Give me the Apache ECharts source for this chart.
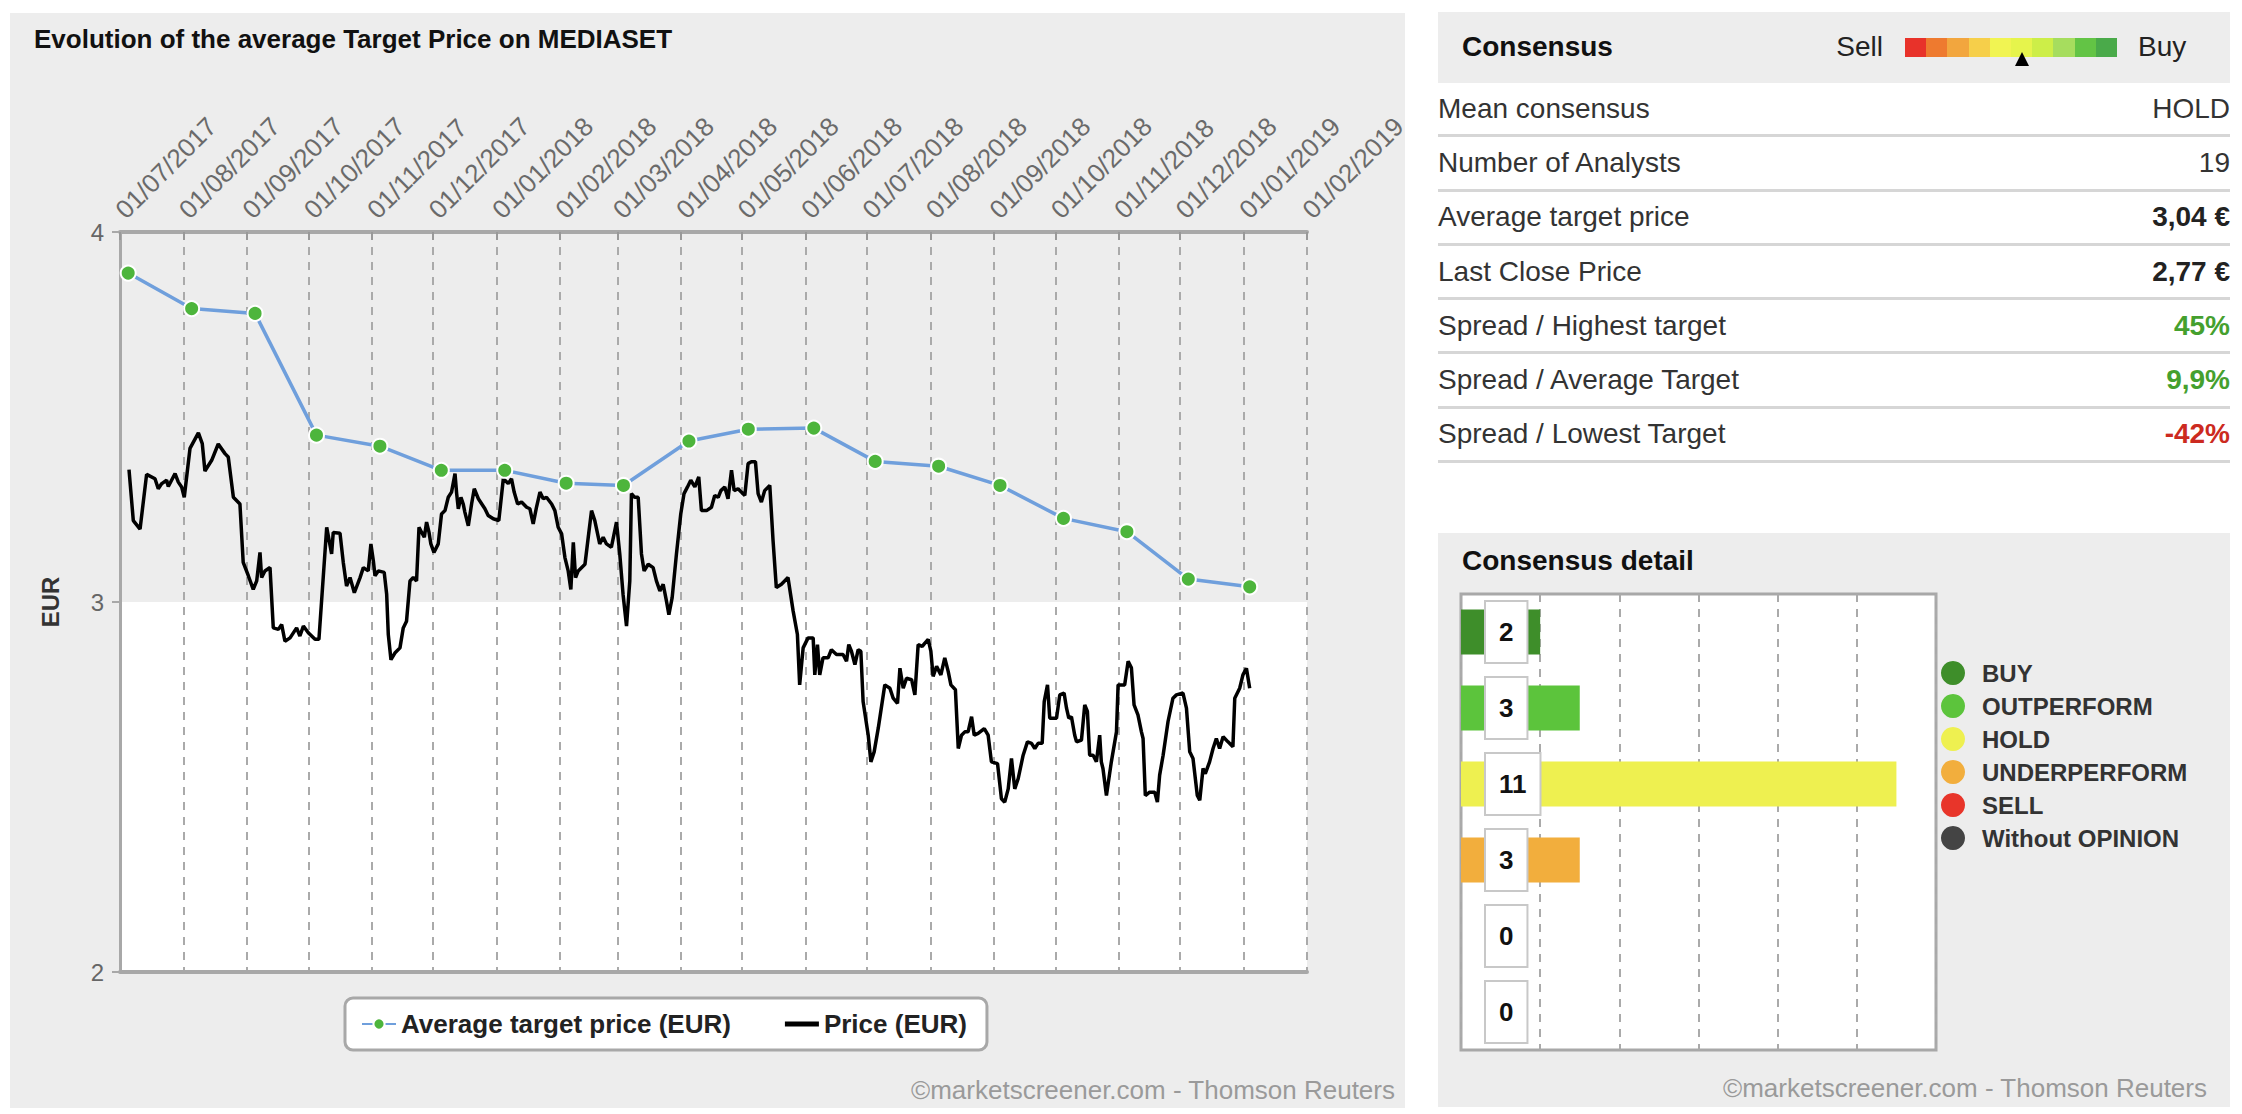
<!DOCTYPE html>
<html><head><meta charset="utf-8">
<script src="https://cdn.jsdelivr.net/npm/echarts@6/dist/echarts.min.js"></script>
<style>
html,body{margin:0;padding:0;background:#fff;width:2242px;height:1114px;overflow:hidden;font-family:"Liberation Sans",Arial,sans-serif;}
.panel{position:absolute;background:#ededed;}
#chart{position:absolute;left:0;top:0;width:2242px;height:1114px;}
#tbl{position:absolute;left:1438px;top:12px;width:792px;color:#333;}
.hdr{position:relative;height:71px;background:#ededed;}
.ht{position:absolute;left:24px;top:0;line-height:70px;font-size:28px;font-weight:bold;color:#111;}
.sell{position:absolute;right:347px;top:0;line-height:70px;font-size:28px;color:#222;}
.buy{position:absolute;left:700px;top:0;line-height:70px;font-size:28px;color:#222;}
.scale{position:absolute;left:467px;top:26px;width:212px;height:19px;display:flex;}
.scale i{flex:1;display:block;}
.tri{position:absolute;left:577px;top:40px;width:0;height:0;border-left:7px solid transparent;border-right:7px solid transparent;border-bottom:14px solid #000;}
.row{height:54.3px;box-sizing:border-box;border-bottom:3px solid #d6d6d6;display:flex;justify-content:space-between;align-items:center;font-size:28px;color:#333;}
.row .v{color:#333;}
</style></head>
<body>
<div class="panel" style="left:10px;top:13px;width:1395px;height:1095px"></div>
<div class="panel" style="left:1438px;top:533px;width:792px;height:574px"></div>
<div id="chart"></div>
<div id="tbl"></div>
<script>
// ---------------- DATA ----------------
const monthTickLabels = ['01/07/2017','01/08/2017','01/09/2017','01/10/2017','01/11/2017','01/12/2017',
  '01/01/2018','01/02/2018','01/03/2018','01/04/2018','01/05/2018','01/06/2018','01/07/2018','01/08/2018',
  '01/09/2018','01/10/2018','01/11/2018','01/12/2018','01/01/2019','01/02/2019'];
const yTickValues = [2, 3, 4];
const targetDates = ['2017-07-05','2017-08-05','2017-09-05','2017-10-05','2017-11-05','2017-12-05','2018-01-05',
  '2018-02-04','2018-03-04','2018-04-05','2018-05-04','2018-06-05','2018-07-05','2018-08-05','2018-09-04',
  '2018-10-05','2018-11-05','2018-12-05','2019-01-04'];
const targetValues = [3.889,3.793,3.780,3.451,3.421,3.356,3.356,3.321,3.315,3.435,3.467,3.470,3.380,3.367,
  3.315,3.226,3.190,3.062,3.041];
const priceStart = '2017-07-01';
// [days after priceStart, price in EUR]
const pricePoints = [
 [4.4,3.358],[6.5,3.220],[9.8,3.197],[13.0,3.345],[17.1,3.333],[18.7,3.306],[20.4,3.320],[22.8,3.329],
 [23.6,3.312],[25.2,3.329],[26.9,3.347],[28.5,3.324],[30.1,3.311],[31.4,3.283],[34.2,3.415],[38.3,3.457],
 [40.2,3.428],[41.5,3.354],[44.8,3.383],[48.0,3.427],[51.3,3.401],[52.9,3.392],[55.4,3.283],[58.6,3.265],
 [60.2,3.107],[62.7,3.071],[65.1,3.034],[66.8,3.057],[68.4,3.134],[69.2,3.066],[70.8,3.084],[73.3,3.093],
 [74.9,2.930],[77.4,2.926],[79.0,2.939],[80.6,2.894],[83.1,2.903],[86.3,2.930],[87.9,2.908],[89.6,2.935],
 [92.0,2.917],[95.3,2.899],[97.2,2.899],[101.0,3.202],[103.4,3.130],[104.2,3.188],[107.5,3.186],[109.1,3.107],
 [110.7,3.043],[112.4,3.066],[114.5,3.025],[117.3,3.066],[118.9,3.093],
 [121.3,3.084],[122.6,3.157],[123.8,3.111],[124.6,3.071],[126.2,3.084],[129.1,3.080],[130.3,3.021],[131.1,2.912],
 [132.4,2.844],[134.3,2.862],[136.8,2.876],[138.4,2.930],[140.0,2.948],[141.7,3.057],[143.3,3.066],[144.9,3.057],
 [146.1,3.202],[147.4,3.188],[148.7,3.175],[149.8,3.216],[151.0,3.188],[151.9,3.157],[153.4,3.134],[155.5,3.157],
 [157.1,3.238],[158.8,3.247],[160.4,3.283],[162.0,3.297],[163.7,3.347],[164.5,3.293],[165.3,3.252],[166.6,3.283],
 [167.7,3.265],[168.5,3.243],[170.2,3.206],[171.8,3.265],[173.1,3.306],[175.1,3.279],[178.3,3.252],[179.9,3.234],
 [182.4,3.225],[185.1,3.220],[187.3,3.333],[189.7,3.320],[191.3,3.333],[192.6,3.297],[194.3,3.265],[196.2,3.270],
 [198.7,3.256],[200.3,3.252],[201.9,3.211],[203.5,3.256],[205.2,3.297],[206.8,3.279],[208.4,3.283],[210.9,3.265],
 [212.5,3.247],[214.1,3.202],[215.8,3.184],[217.4,3.120],[219.0,3.084],[220.3,3.034],[221.5,3.161],[222.6,3.066],
 [223.9,3.084],[227.2,3.102],[228.8,3.175],[230.4,3.247],[232.0,3.220],
 [234.4,3.157],[236.1,3.175],[237.7,3.157],[240.1,3.148],[242.6,3.216],[244.2,3.130],[245.8,3.021],[247.5,2.935],
 [249.1,3.057],[249.9,3.293],[251.5,3.283],[253.2,3.283],[254.8,3.130],[256.1,3.084],[258.1,3.102],[260.5,3.093],
 [262.1,3.057],[263.8,3.030],[265.4,3.048],[267.0,3.003],[268.2,2.966],[269.8,3.012],[271.9,3.130],[274.0,3.238],
 [275.6,3.293],[277.3,3.311],[278.9,3.329],[280.9,3.311],[282.8,3.338],[284.1,3.247],[286.6,3.247],[289.0,3.256],
 [290.6,3.288],[292.3,3.283],[293.6,3.301],[295.5,3.311],[297.1,3.279],[298.8,3.356],[300.1,3.301],[302.0,3.306],
 [303.6,3.297],[305.3,3.288],[306.9,3.374],[308.5,3.379],[310.5,3.379],[311.8,3.293],[313.4,3.270],[315.0,3.301],
 [317.5,3.315],[319.1,3.166],[320.7,3.039],[323.2,3.048],[326.4,3.066],[328.9,2.976],[331.0,2.912],[332.1,2.776],
 [333.8,2.876],[336.2,2.903],[338.7,2.903],[339.5,2.803],[340.8,2.885],[341.9,2.803],[343.5,2.849],[346.0,2.849],
 [347.6,2.871],[350.1,2.858],[353.3,2.858],
 [355.0,2.840],[356.1,2.885],[357.4,2.867],[359.1,2.831],[360.7,2.871],[362.0,2.867],[363.1,2.731],[365.6,2.640],
 [366.9,2.568],[368.5,2.595],[370.5,2.659],[373.7,2.776],[376.2,2.767],[377.8,2.740],[379.9,2.726],[381.1,2.821],
 [382.7,2.767],[384.3,2.794],[386.8,2.790],[388.4,2.749],[390.0,2.885],[392.0,2.880],[393.3,2.889],[394.9,2.899],
 [396.2,2.867],[397.3,2.799],[399.0,2.826],[401.1,2.803],[403.0,2.849],[404.7,2.812],[406.0,2.776],[408.2,2.763],
 [409.6,2.604],[411.2,2.640],[412.8,2.649],[414.4,2.649],[416.1,2.690],[417.4,2.640],[419.3,2.645],[422.3,2.658],
 [424.2,2.640],[425.8,2.568],[428.8,2.563],[430.7,2.468],[432.3,2.459],[434.0,2.495],[435.6,2.577],[437.2,2.495],
 [438.9,2.523],[441.3,2.586],[443.4,2.622],[445.4,2.618],[447.0,2.604],[448.6,2.618],[450.6,2.618],[451.6,2.731],
 [453.2,2.776],[454.3,2.686],[457.6,2.686],[459.2,2.749],[461.3,2.754],[462.5,2.713],[463.6,2.686],[464.9,2.690],
 [466.5,2.640],[467.4,2.622],[469.8,2.627],
 [471.4,2.722],[472.7,2.704],[473.8,2.586],[475.5,2.586],[477.1,2.568],[478.7,2.640],[479.5,2.568],[480.3,2.550],
 [482.0,2.477],[484.4,2.568],[486.9,2.649],[487.7,2.776],[490.9,2.776],[492.6,2.840],[494.2,2.822],[495.5,2.722],
 [497.4,2.695],[499.1,2.649],[499.9,2.631],[501.0,2.477],[503.1,2.486],[505.6,2.486],[506.9,2.459],[508.0,2.532],
 [509.7,2.586],[512.1,2.677],[514.5,2.740],[516.2,2.749],[519.4,2.754],[521.1,2.713],[522.7,2.595],[524.3,2.577],
 [526.4,2.477],[527.6,2.464],[529.2,2.550],[530.3,2.536],[532.4,2.568],[534.1,2.604],[535.7,2.631],[537.3,2.604],
 [539.0,2.636],[541.4,2.622],[543.8,2.609],[544.7,2.740],[547.1,2.767],[548.7,2.803],[550.4,2.821],[552.0,2.767]
];
const consensusCategories = ['BUY','OUTPERFORM','HOLD','UNDERPERFORM','SELL','Without OPINION'];
const consensusCounts = [2, 3, 11, 3, 0, 0];
const consensusColors = ['#3e8e2a','#5cc43c','#eef050','#f2ae3d','#e8352a','#444444'];
const consensusTicks = [0, 2, 4, 6, 8, 10, 12];
const scaleColors = ['#e8322a','#ee7a2f','#f2a63e','#f6cf4a','#f1f452','#e6f44c','#cdee48','#a6dd5e','#63c445','#4aaa4a'];
const consensusRows = [
  ['Mean consensus','HOLD',''],
  ['Number of Analysts','19',''],
  ['Average target price','3,04 €','bold'],
  ['Last Close Price','2,77 €','bold'],
  ['Spread / Highest target','45%','green'],
  ['Spread / Average Target','9,9%','green'],
  ['Spread / Lowest Target','-42%','red']
];

// ---------------- TABLE ----------------
let html = '<div class="hdr"><span class="ht">Consensus</span><span class="sell">Sell</span><div class="scale">' +
  scaleColors.map(c => '<i style="background:' + c + '"></i>').join('') +
  '</div><div class="tri"></div><span class="buy">Buy</span></div>';
consensusRows.forEach(r => {
  let st = '';
  if (r[2] === 'bold') st = 'font-weight:bold;color:#222;';
  if (r[2] === 'green') st = 'font-weight:bold;color:#45a02e;';
  if (r[2] === 'red') st = 'font-weight:bold;color:#cc2a20;';
  html += '<div class="row"><span>' + r[0] + '</span><span class="v" style="' + st + '">' + r[1] + '</span></div>';
});
document.getElementById('tbl').innerHTML = html;

// ---------------- CHART ----------------
const FONT = '"Liberation Sans", Arial, sans-serif';
function parseDMY(s){ const p = s.split('/').map(Number); return new Date(p[2], p[1]-1, p[0]).getTime(); }
function parseYMD(s){ const p = s.split('-').map(Number); return new Date(p[0], p[1]-1, p[2]).getTime(); }
const tickValues = monthTickLabels.map(parseDMY);
const labelByValue = {};
tickValues.forEach((v,i)=>{ labelByValue[v] = monthTickLabels[i]; });
const base = parseYMD(priceStart);
const priceData = pricePoints.map(p => [base + p[0]*86400000, p[1]]);
const targetData = targetDates.map((d,i) => [parseYMD(d), targetValues[i]]);

const chart = echarts.init(document.getElementById('chart'), null, {renderer:'svg', width:2242, height:1114});

const barSeries = consensusCategories.map((name, i) => ({
  type:'bar', name:name, xAxisIndex:2, yAxisIndex:1, stack:'c', barWidth:45,
  itemStyle:{color:consensusColors[i]},
  data: consensusCounts.map((v,j) => j === i ? v : '-'),
  label:{show:true, position:[25,'50%'], align:'left', verticalAlign:'middle',
    backgroundColor:'#fff', borderColor:'#c8c8c8', borderWidth:2, padding:[17,13],
    fontSize:26, lineHeight:26, fontWeight:'bold', color:'#111', fontFamily:FONT},
  emphasis:{disabled:true}
}));

const option = {
  animation:false,
  textStyle:{fontFamily:FONT},
  title:[
    {text:'Evolution of the average Target Price on MEDIASET', left:34, top:26, padding:0,
     textStyle:{fontSize:26, fontWeight:'bold', color:'#111', fontFamily:FONT}},
    {text:'Consensus detail', left:1462, top:546, padding:0,
     textStyle:{fontSize:28, fontWeight:'bold', color:'#111', fontFamily:FONT}}
  ],
  grid:[
    {left:120, top:232, width:1187, height:740, outerBoundsMode:'none', containLabel:false},
    {left:1461, top:594, width:475, height:456, show:true, backgroundColor:'#fff',
     borderColor:'#a8a8a8', borderWidth:3, outerBoundsMode:'none', containLabel:false}
  ],
  legend:[
    {data:[{name:'Average target price (EUR)'},
           {name:'Price (EUR)', icon:'path://M0,0 H34 V5 H0 Z'}],
     left:345, top:998,
     backgroundColor:'#fff', borderColor:'#a8a8a8', borderWidth:3, borderRadius:8,
     padding:[13,20,13,16], itemGap:54, itemWidth:34, itemHeight:14,
     textStyle:{fontSize:26, fontWeight:'bold', color:'#222', fontFamily:FONT}},
    {data:consensusCategories, orient:'vertical', left:1941, top:661, icon:'circle',
     itemWidth:48, itemHeight:24, itemGap:9, padding:0,
     textStyle:{fontSize:24, fontWeight:'bold', color:'#333', fontFamily:FONT}}
  ],
  xAxis:[
    {type:'value', gridIndex:0, position:'top', min:tickValues[0], max:tickValues[tickValues.length-1],
     axisLine:{show:true, lineStyle:{color:'#a8a8a8', width:4}},
     axisTick:{show:true, inside:true, length:8, customValues:tickValues, lineStyle:{color:'#999', width:2}},
     axisLabel:{show:true, customValues:tickValues, rotate:-45, margin:18, fontSize:26, color:'#6a6a6a',
       fontFamily:FONT, hideOverlap:false, showMinLabel:true, showMaxLabel:true,
       formatter:function(v){ return labelByValue[v] || ''; }},
     splitLine:{show:true, lineStyle:{color:'#aaaaaa', width:2, type:[8,7]}}},
    {type:'value', gridIndex:0, position:'bottom', min:0, max:1,
     axisLine:{show:true, lineStyle:{color:'#a8a8a8', width:4}},
     axisTick:{show:false}, axisLabel:{show:false}, splitLine:{show:false}},
    {type:'value', gridIndex:1, min:consensusTicks[0], max:consensusTicks[consensusTicks.length-1], interval:2,
     axisLine:{show:false}, axisTick:{show:false}, axisLabel:{show:false},
     splitLine:{show:true, lineStyle:{color:'#aaaaaa', width:2, type:[8,7]}}}
  ],
  yAxis:[
    {type:'value', gridIndex:0, min:yTickValues[0], max:yTickValues[yTickValues.length-1], interval:1,
     name:'EUR', nameLocation:'middle', nameGap:58,
     nameTextStyle:{fontSize:24, fontWeight:'bold', color:'#333', fontFamily:FONT},
     axisLine:{show:true, lineStyle:{color:'#a8a8a8', width:3}},
     axisTick:{show:true, length:8, lineStyle:{color:'#a8a8a8', width:2}},
     axisLabel:{fontSize:24, color:'#666', margin:16, fontFamily:FONT},
     splitLine:{show:false},
     splitArea:{show:true, areaStyle:{color:['#ffffff','#ededed']}}},
    {type:'category', gridIndex:1, data:consensusCategories, inverse:true,
     axisLine:{show:false}, axisTick:{show:false}, axisLabel:{show:false}, splitLine:{show:false}}
  ],
  series:[
    {type:'line', name:'Price (EUR)', xAxisIndex:0, yAxisIndex:0, data:priceData,
     symbol:'none', lineStyle:{color:'#000', width:3.5}, itemStyle:{color:'#000'}, emphasis:{disabled:true}},
    {type:'line', name:'Average target price (EUR)', xAxisIndex:0, yAxisIndex:0, data:targetData,
     symbol:'circle', symbolSize:15, showAllSymbol:true,
     lineStyle:{color:'#6f9fdc', width:3.5},
     itemStyle:{color:'#4db53c', borderColor:'#fff', borderWidth:2}, emphasis:{disabled:true}}
  ].concat(barSeries),
  graphic:[
    {type:'text', x:1395, y:1090, style:{text:'©marketscreener.com - Thomson Reuters', align:'right',
      verticalAlign:'middle', fontSize:26, fill:'#9a9a9a', fontFamily:FONT}},
    {type:'text', x:2207, y:1088, style:{text:'©marketscreener.com - Thomson Reuters', align:'right',
      verticalAlign:'middle', fontSize:26, fill:'#9a9a9a', fontFamily:FONT}}
  ]
};
chart.setOption(option);
</script>
</body></html>
